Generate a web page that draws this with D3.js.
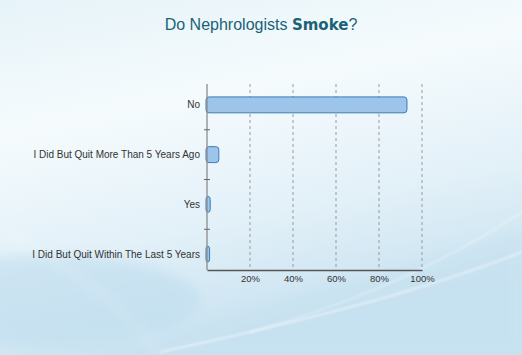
<!DOCTYPE html>
<html lang="en">
<head>
  <meta charset="UTF-8">
  <script src="https://d3js.org/d3.v7.min.js"></script>
  <title>Do Nephrologists Smoke?</title>
  <style>
    body {
      margin: 0;
      overflow: hidden;
      font-family: "Liberation Sans", Arial, sans-serif;
    }
  </style>
</head>
<body>
<script>
  // Survey answers, top to bottom
  const answers = [
    "No",
    "I Did But Quit More Than 5 Years Ago",
    "Yes",
    "I Did But Quit Within The Last 5 Years"
  ];
  // Share of respondents (%)
  const shares = [93, 5.5, 1.5, 1.2];
  const tickValues = [20, 40, 60, 80, 100];

  const width = 522;
  const height = 355;

  const svg = d3.select("body").append("svg")
    .attr("width", width)
    .attr("height", height);

  const defs = svg.append("defs");

  // Background gradient
  const bg = defs.append("linearGradient")
    .attr("id", "bg")
    .attr("x1", 0).attr("y1", 0).attr("x2", 0.3).attr("y2", 1);
  bg.append("stop").attr("offset", "0%").attr("stop-color", "#e6f3f8");
  bg.append("stop").attr("offset", "35%").attr("stop-color", "#f5fbfd");
  bg.append("stop").attr("offset", "70%").attr("stop-color", "#e2f0f8");
  bg.append("stop").attr("offset", "100%").attr("stop-color", "#c8e2f0");

  const blur = defs.append("filter").attr("id", "soft")
    .attr("x", "-20%").attr("y", "-20%").attr("width", "140%").attr("height", "140%");
  blur.append("feGaussianBlur").attr("stdDeviation", 6);
  const blur2 = defs.append("filter").attr("id", "soft2")
    .attr("x", "-20%").attr("y", "-20%").attr("width", "140%").attr("height", "140%");
  blur2.append("feGaussianBlur").attr("stdDeviation", 1.2);

  svg.append("rect")
    .attr("width", width)
    .attr("height", height)
    .attr("fill", "url(#bg)");

  // soft blue patch lower left and streaks lower right
  svg.append("ellipse")
    .attr("cx", 50).attr("cy", 300).attr("rx", 150).attr("ry", 45)
    .attr("fill", "#bddcee").attr("opacity", 0.55)
    .attr("filter", "url(#soft)");
  svg.append("path")
    .attr("d", "M120,355 C260,300 400,270 522,230 L522,355 Z")
    .attr("fill", "#c6e1f0").attr("opacity", 0.5)
    .attr("filter", "url(#soft)");
  svg.append("path")
    .attr("d", "M160,352 C300,322 420,292 522,252")
    .attr("fill", "none").attr("stroke", "#ffffff").attr("stroke-width", 2)
    .attr("opacity", 0.45).attr("filter", "url(#soft2)");
  svg.append("path")
    .attr("d", "M250,332 C340,307 430,272 522,212")
    .attr("fill", "none").attr("stroke", "#ffffff").attr("stroke-width", 1.5)
    .attr("opacity", 0.4).attr("filter", "url(#soft2)");
  svg.append("path")
    .attr("d", "M0,230 C60,260 120,300 160,355")
    .attr("fill", "none").attr("stroke", "#ffffff").attr("stroke-width", 3)
    .attr("opacity", 0.35).attr("filter", "url(#soft)");

  // Title
  const title = svg.append("text")
    .attr("x", 261)
    .attr("y", 30)
    .attr("text-anchor", "middle")
    .attr("fill", "#1a6276")
    .attr("font-size", 16);
  title.append("tspan").text("Do Nephrologists ");
  title.append("tspan")
    .attr("font-family", "'DejaVu Sans', sans-serif")
    .attr("font-weight", "bold")
    .attr("font-size", 15)
    .text("Smoke");
  title.append("tspan").text("?");

  // Scales
  const x = d3.scaleLinear().domain([0, 100]).range([207, 422]);
  const y = d3.scaleBand().domain(answers).range([80, 279]).paddingInner(0.68).paddingOuter(0.34);
  const axisBottomY = 270;

  // Grid lines
  svg.append("g")
    .selectAll("line")
    .data(tickValues)
    .enter().append("line")
    .attr("x1", d => x(d)).attr("x2", d => x(d))
    .attr("y1", 84).attr("y2", axisBottomY)
    .attr("stroke", "#9a9a9a")
    .attr("stroke-width", 1)
    .attr("stroke-dasharray", "3,3");

  // Bars
  svg.append("g")
    .selectAll("rect")
    .data(answers)
    .enter().append("rect")
    .attr("x", x(0) - 1)
    .attr("y", d => y(d))
    .attr("width", (d, i) => x(shares[i]) - x(0) + 1)
    .attr("height", y.bandwidth())
    .attr("rx", 3)
    .attr("fill", "#9dc5e9")
    .attr("stroke", "#3a7cb8")
    .attr("stroke-width", 1);

  // Y axis
  const yAxis = svg.append("g")
    .attr("transform", `translate(${x(0)},0)`);
  yAxis.append("line")
    .attr("x1", 0).attr("x2", 0)
    .attr("y1", 84).attr("y2", axisBottomY)
    .attr("stroke", "#8c8c8c").attr("stroke-width", 1.3);
  const step = y.step();
  yAxis.selectAll(".sep")
    .data(answers.slice(1))
    .enter().append("line")
    .attr("x1", -3).attr("x2", 3)
    .attr("y1", d => y(d) - step * y.paddingInner() / 2)
    .attr("y2", d => y(d) - step * y.paddingInner() / 2)
    .attr("stroke", "#666");
  yAxis.selectAll("text")
    .data(answers)
    .enter().append("text")
    .attr("x", -7)
    .attr("y", d => y(d) + y.bandwidth() / 2)
    .attr("dy", "0.35em")
    .attr("text-anchor", "end")
    .attr("font-size", 10)
    .attr("fill", "#333")
    .text(d => d);

  // X axis
  const xAxis = svg.append("g")
    .attr("transform", `translate(0,${axisBottomY})`)
    .call(d3.axisBottom(x).tickValues(tickValues).tickSize(0).tickPadding(5).tickFormat(d => d + "%"));
  xAxis.select(".domain").attr("stroke", "#555").attr("stroke-width", 1.3);
  xAxis.selectAll("text")
    .attr("font-family", "'Liberation Sans', Arial, sans-serif")
    .attr("font-size", 9.5)
    .attr("fill", "#333");
</script>
</body>
</html>
